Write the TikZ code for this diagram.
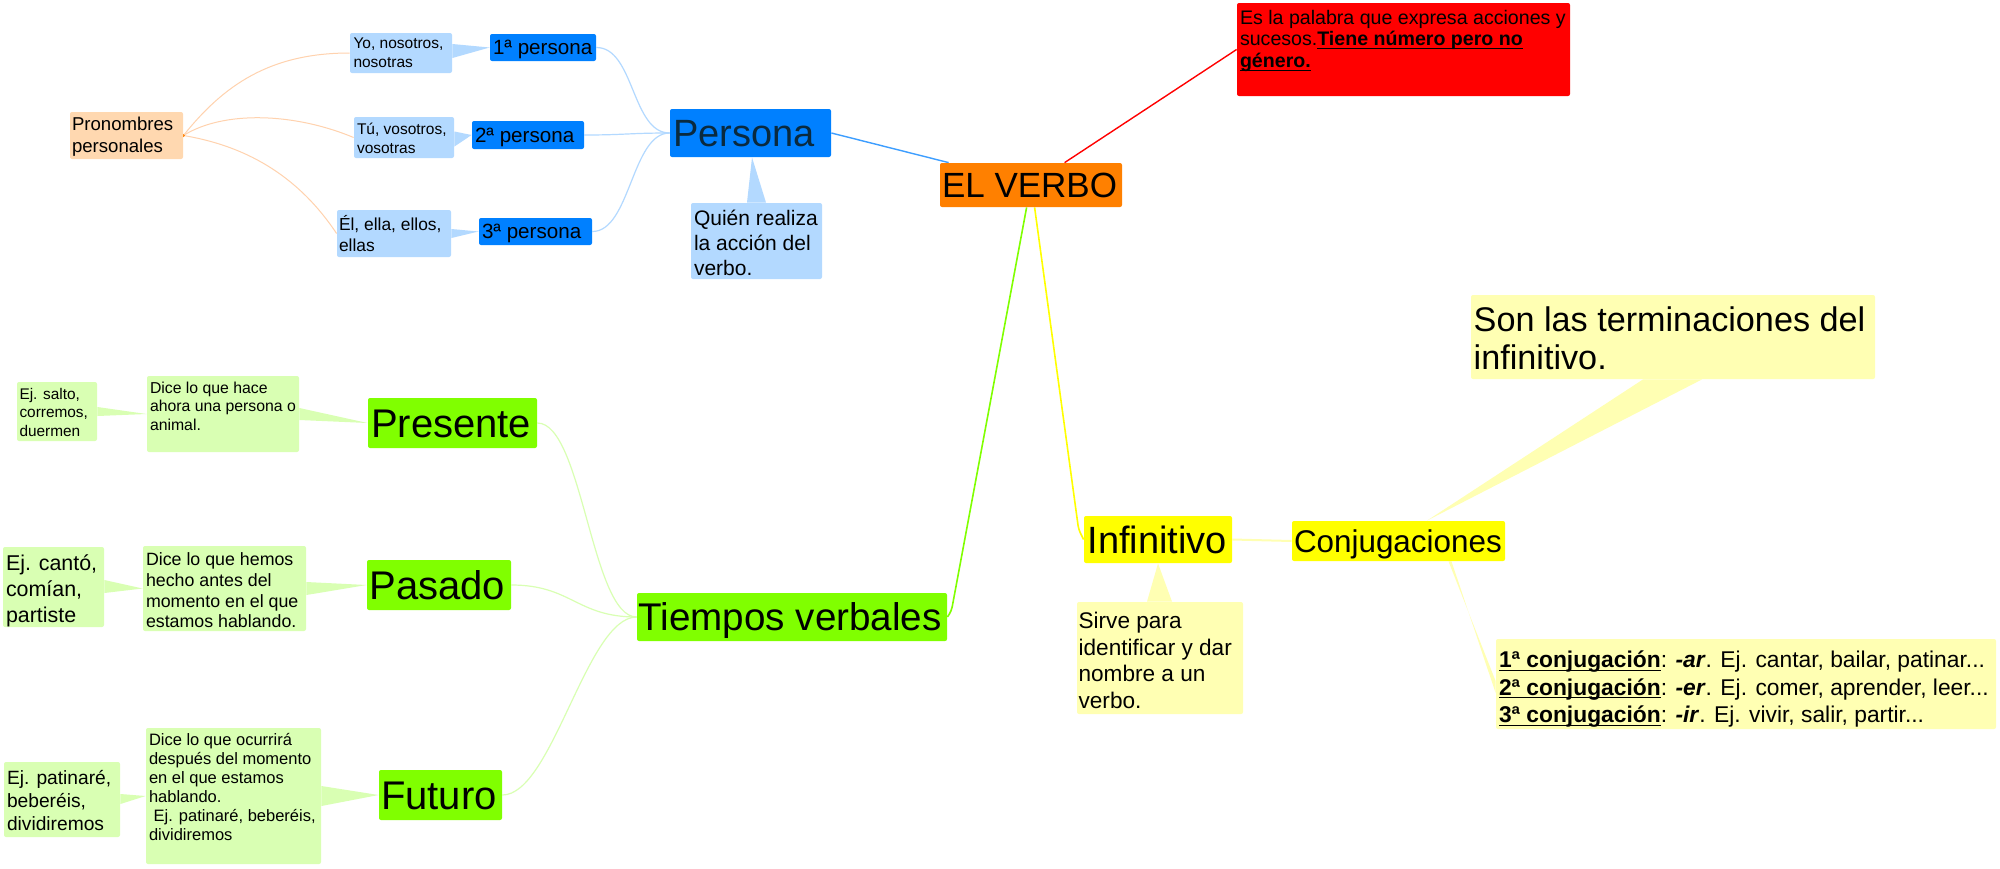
\documentclass[tikz,border=0pt]{standalone}
\usepackage{fontspec}
\setmainfont{Liberation Sans}
\usetikzlibrary{fit}
\pgfdeclarelayer{back}
\pgfdeclarelayer{bg}
\pgfsetlayers{back,bg,main}
\newcommand\myfs[2]{\fontsize{#1}{#2}\selectfont}
\newcommand\myul[1]{\underline{\smash{#1}}}
\definecolor{peach}{HTML}{FFD8B0}
\definecolor{lblue}{HTML}{B3D9FF}
\definecolor{mblue}{HTML}{0080FF}
\definecolor{orng}{HTML}{FF8000}
\definecolor{vgreen}{HTML}{80FF00}
\definecolor{lgreen}{HTML}{D9FFB3}
\definecolor{vyellow}{HTML}{FFFF00}
\definecolor{lyellow}{HTML}{FFFFB3}
\definecolor{lorange}{HTML}{FFD2AE}
\definecolor{pvblue}{HTML}{3D9EFF}
\definecolor{darkp}{HTML}{0A2A3F}
\tikzset{
  bx/.style={inner sep=0pt, rounded corners=1pt, draw=none},
  tx/.style={inner sep=0pt, anchor=north west, align=left, text=black},
  sl/.style={inner sep=0pt, anchor=base west, text=black},
  lorc/.style={draw=lorange, line width=0.5pt},
  lbc/.style={draw=lblue, line width=0.6pt},
  lgc/.style={draw=lgreen, line width=0.6pt},
  pvc/.style={draw=pvblue, line width=0.7pt},
  redc/.style={draw=red, line width=0.7pt},
  grc/.style={draw=vgreen, line width=0.8pt, rounded corners=2pt},
  yec/.style={draw=vyellow, line width=0.8pt, rounded corners=2pt},
  lyc/.style={draw=lyellow, line width=1pt},
}
\begin{document}
\begin{tikzpicture}[x=0.5pt,y=-0.5pt]
\useasboundingbox (0,0) rectangle (2000,868);
\begin{pgfonlayer}{back}
\fill[white] (0,0) rectangle (2000,868);
\end{pgfonlayer}

% ---------- boxes ----------
\node[bx, fill=peach,  fit={(70,112) (183,159)}] (pron) {};
\node[bx, fill=lblue,  fit={(350,33) (452,73)}] (yo) {};
\node[bx, fill=mblue,  fit={(490,34) (596,61)}] (p1) {};
\node[bx, fill=lblue,  fit={(354,117) (454,158)}] (tu) {};
\node[bx, fill=mblue,  fit={(472,121) (584,149)}] (p2) {};
\node[bx, fill=lblue,  fit={(337,210) (451,257)}] (el) {};
\node[bx, fill=mblue,  fit={(479,218) (592,245)}] (p3) {};
\node[bx, fill=mblue,  fit={(670,109) (831,157)}] (persona) {};
\node[bx, fill=lblue,  fit={(691,203) (822,279)}] (quien) {};
\node[bx, fill=orng,   fit={(940,163) (1122,207)}] (verbo) {};
\node[bx, fill=red,    fit={(1237,3) (1570,96)}] (red) {};
\node[bx, fill=vgreen, fit={(368,398) (537,448)}] (presente) {};
\node[bx, fill=lgreen, fit={(147,376) (299,452)}] (dhace) {};
\node[bx, fill=lgreen, fit={(17,382) (97,441)}] (esalto) {};
\node[bx, fill=vgreen, fit={(367,560) (511,610)}] (pasado) {};
\node[bx, fill=lgreen, fit={(143,546) (306,631)}] (dhemos) {};
\node[bx, fill=lgreen, fit={(3,547) (104,627)}] (ecanto) {};
\node[bx, fill=vgreen, fit={(379,770) (502,820)}] (futuro) {};
\node[bx, fill=lgreen, fit={(146,728) (321,864)}] (docurr) {};
\node[bx, fill=lgreen, fit={(4,762) (120,837)}] (epat) {};
\node[bx, fill=vgreen, fit={(637,593) (947,641)}] (tiempos) {};
\node[bx, fill=vyellow, fit={(1084,516) (1232,563)}] (infinitivo) {};
\node[bx, fill=vyellow, fit={(1292,521) (1505,561)}] (conj) {};
\node[bx, fill=lyellow, fit={(1077,602) (1243,714)}] (sirve) {};
\node[bx, fill=lyellow, fit={(1471,295) (1875,379)}] (sonlas) {};
\node[bx, fill=lyellow, fit={(1496,639) (1996,729)}] (list) {};

% ---------- texts ----------
\node[tx, font=\myfs{9.3}{10.85}] (tpron) at ([shift={(2,5)}]pron.north west) {Pronombres\\personales};
\node[tx, font=\myfs{7.75}{9.5}] (tyo) at ([shift={(3.5,5)}]yo.north west) {Yo, nosotros,\\nosotras};
\node[tx, font=\myfs{7.75}{9.5}] (ttu) at ([shift={(3,6)}]tu.north west) {Tú, vosotros,\\vosotras};
\node[tx, font=\myfs{8.7}{10.5}] (tel) at ([shift={(2,5)}]el.north west) {Él, ella, ellos,\\ellas};
\node[sl, font=\myfs{10.3}{12}] (tp1) at ([shift={(3,7.4)}]p1.west) {1ª persona};
\node[sl, font=\myfs{10.3}{12}] (tp2) at ([shift={(3,7.4)}]p2.west) {2ª persona};
\node[sl, font=\myfs{10.3}{12}] (tp3) at ([shift={(3,7.4)}]p3.west) {3ª persona};
\node[sl, font=\myfs{19}{22}, text=darkp] (tpersona) at ([shift={(3,13.7)}]persona.west) {Persona};
\node[tx, font=\myfs{10.5}{12.5}] (tquien) at ([shift={(3,7)}]quien.north west) {Quién realiza\\la acción del\\verbo.};
\node[sl, font=\myfs{17.5}{20}] (tverbo) at ([shift={(2,12.3)}]verbo.west) {EL VERBO};
\node[tx, font=\myfs{9.8}{10.85}] (tred) at ([shift={(3,7)}]red.north west) {Es la palabra que expresa acciones y\\sucesos.\textbf{\myul{Tiene número pero no}}\\\textbf{\myul{género.}}};
\node[sl, font=\myfs{20}{23}] (tpresente) at ([shift={(3,14.4)}]presente.west) {Presente};
\node[tx, font=\myfs{7.9}{9.15}] (tdhace) at ([shift={(3,6)}]dhace.north west) {Dice lo que hace\\ahora una persona o\\animal.};
\node[tx, font=\myfs{7.7}{9.35}] (tesalto) at ([shift={(2.5,6)}]esalto.north west) {Ej. salto,\\corremos,\\duermen};
\node[sl, font=\myfs{20}{23}] (tpasado) at ([shift={(2.5,14.4)}]pasado.west) {Pasado};
\node[tx, font=\myfs{8.9}{10.3}] (tdhemos) at ([shift={(3,7)}]dhemos.north west) {Dice lo que hemos\\hecho antes del\\momento en el que\\estamos hablando.};
\node[tx, font=\myfs{10.7}{12.85}] (tecanto) at ([shift={(3,8)}]ecanto.north west) {Ej. cantó,\\comían,\\partiste};
\node[sl, font=\myfs{20}{23}] (tfuturo) at ([shift={(2,14.4)}]futuro.west) {Futuro};
\node[tx, font=\myfs{8.25}{9.5}] (tdocurr) at ([shift={(3,5)}]docurr.north west) {Dice lo que ocurrirá\\después del momento\\en el que estamos\\hablando.\\\hspace*{0.28em}Ej. patinaré, beberéis,\\dividiremos};
\node[tx, font=\myfs{9.6}{11.65}] (tepat) at ([shift={(3,8)}]epat.north west) {Ej. patinaré,\\beberéis,\\dividiremos};
\node[sl, font=\myfs{19.3}{22}] (ttiempos) at ([shift={(1.5,13.9)}]tiempos.west) {Tiempos verbales};
\node[sl, font=\myfs{19}{22}] (tinfinitivo) at ([shift={(3.5,13.7)}]infinitivo.west) {Infinitivo};
\node[sl, font=\myfs{15.7}{18}] (tconj) at ([shift={(2,11.3)}]conj.west) {Conjugaciones};
\node[tx, font=\myfs{11.3}{13.35}] (tsirve) at ([shift={(1.6,10)}]sirve.north west) {Sirve para\\identificar y dar\\nombre a un\\verbo.};
\node[tx, font=\myfs{17.1}{19}] (tsonlas) at ([shift={(2.7,12)}]sonlas.north west) {Son las terminaciones del\\infinitivo.};
\node[tx, font=\myfs{11.4}{13.75}] (tlist) at ([shift={(3,12)}]list.north west) {\textbf{\myul{1ª conjugación}}: \textbf{\textit{-ar}}. Ej. cantar, bailar, patinar...\\\textbf{\myul{2ª conjugación}}: \textbf{\textit{-er}}. Ej. comer, aprender, leer...\\\textbf{\myul{3ª conjugación}}: \textbf{\textit{-ir}}. Ej. vivir, salir, partir...};

% ---------- connectors ----------
\begin{pgfonlayer}{bg}
\draw[lorc] (pron.east) .. controls +(40,-50) and +(-80,0) .. (yo.west);
\draw[lorc] (pron.east) .. controls +(40,-25) and +(-60,-25) .. (tu.west);
\draw[lorc] (pron.east) .. controls +(60,10) and +(-40,-60) .. (el.west);
\fill[orng] (pron.east) circle (1.6);

\draw[lbc] (p1.east) .. controls +(38,0) and +(-38,0) .. (persona.west);
\draw[lbc] (p2.east) .. controls +(40,0) and +(-40,0) .. (persona.west);
\draw[lbc] (p3.east) .. controls +(38,0) and +(-38,0) .. (persona.west);

\fill[lblue] ([shift={(0,-9)}]yo.east) -- (p1.west) -- ([shift={(0,5)}]yo.east) -- cycle;
\fill[lblue] ([shift={(0,-6)}]tu.east) -- (p2.west) -- ([shift={(0,9)}]tu.east) -- cycle;
\fill[lblue] ([shift={(0,-4.5)}]el.east) -- (p3.west) -- ([shift={(0,4.5)}]el.east) -- cycle;
\fill[lblue] ([shift={(-9.5,0)}]quien.north) -- ([shift={(1.5,0)}]persona.south) -- ([shift={(9.5,0)}]quien.north) -- cycle;

\draw[pvc] (persona.east) -- ([shift={(9,0)}]verbo.north west);
\draw[redc] ([shift={(125,0)}]verbo.north west) -- (red.west);
\draw[grc] ([shift={(87,0)}]verbo.south west) -- ([shift={(4,-6)}]tiempos.east) -- (tiempos.east);
\draw[yec] ([shift={(95,0)}]verbo.south west) -- ([shift={(-5,-10)}]infinitivo.west) -- (infinitivo.west);

\draw[lgc] (presente.east) .. controls +(45,0) and +(-45,0) .. (tiempos.west);
\draw[lgc] (pasado.east) .. controls +(60,0) and +(-60,0) .. (tiempos.west);
\draw[lgc] (futuro.east) .. controls +(50,0) and +(-50,0) .. (tiempos.west);

\fill[lgreen] ([shift={(0,-6)}]dhace.east) -- (presente.west) -- ([shift={(0,6)}]dhace.east) -- cycle;
\fill[lgreen] ([shift={(0,-4.5)}]esalto.east) -- (dhace.west) -- ([shift={(0,4.5)}]esalto.east) -- cycle;
\fill[lgreen] ([shift={(0,-6.5)}]dhemos.east) -- (pasado.west) -- ([shift={(0,6.5)}]dhemos.east) -- cycle;
\fill[lgreen] ([shift={(0,-7)}]ecanto.east) -- (dhemos.west) -- ([shift={(0,6)}]ecanto.east) -- cycle;
\fill[lgreen] ([shift={(0,-10)}]docurr.east) -- (futuro.west) -- ([shift={(0,10)}]docurr.east) -- cycle;
\fill[lgreen] ([shift={(0,-5.5)}]epat.east) -- (docurr.west) -- ([shift={(0,4.5)}]epat.east) -- cycle;

\draw[lyc] (infinitivo.east) -- (conj.west);
\fill[lyellow] ([shift={(-13,0)}]sirve.north) -- (infinitivo.south) -- ([shift={(12,0)}]sirve.north) -- cycle;
\fill[lyellow] ([shift={(-30,0)}]sonlas.south) -- ([shift={(28.5,0)}]conj.north) -- ([shift={(29,0)}]sonlas.south) -- cycle;
\fill[lyellow] ([shift={(50,0)}]conj.south) -- ([shift={(53,0)}]conj.south) -- ([shift={(0,9)}]list.west) -- ([shift={(0,-3)}]list.west) -- cycle;
\end{pgfonlayer}
\end{tikzpicture}
\end{document}
